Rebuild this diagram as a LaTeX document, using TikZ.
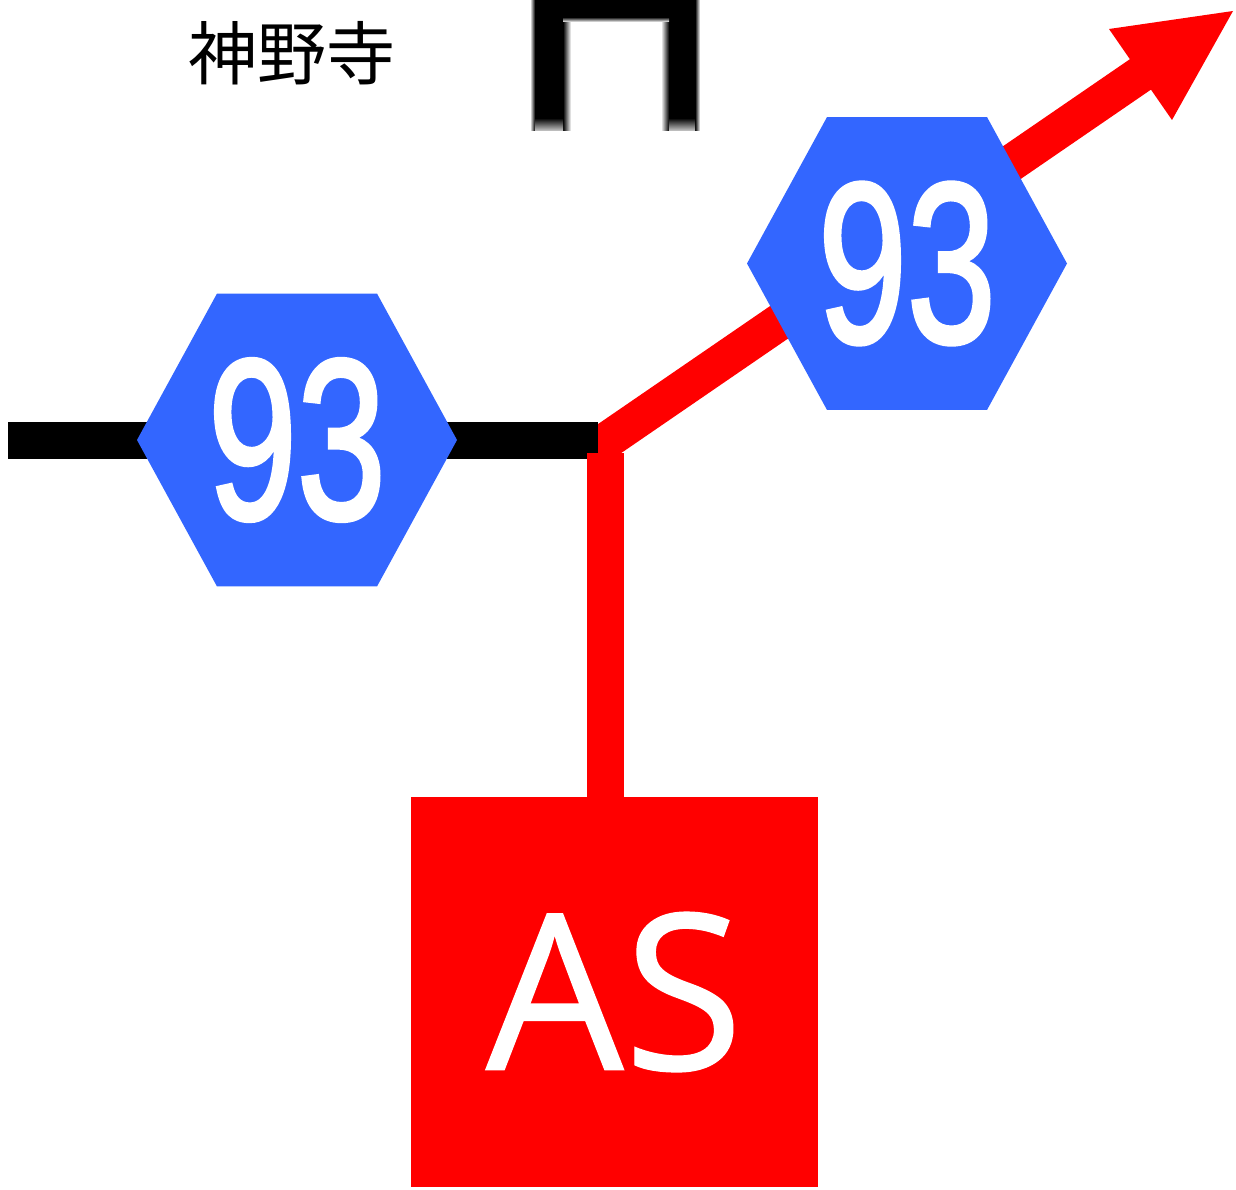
\documentclass[tikz,border=0pt]{standalone}
\usepackage{fontspec}
\setmainfont{Liberation Sans}
\newfontfamily\cjk{Noto Sans CJK JP}
\newfontfamily\asfont[FakeBold=.6]{Open Sans}
\newfontfamily\routefont[FakeBold=2]{Liberation Sans}
\usetikzlibrary{shapes.geometric}
\definecolor{roadblue}{RGB}{51,102,255}
\newdimen\pxu
\pxu=.02646cm
\tikzset{
  routehex/.style={regular polygon,regular polygon sides=6,fill=roadblue,inner sep=0pt,minimum size=320\pxu,yscale=1.057,transform shape},
  routeno/.style={text=white,font=\routefont\fontsize{172}{172}\selectfont,xscale=.7,transform shape},
  roadline/.style={line width=37\pxu},
}
\begin{document}
\begin{tikzpicture}[x=.02646cm,y=-.02646cm]
      \useasboundingbox (0,0) rectangle (1236,1189);
      % road lines
      \coordinate (west) at (8,440.5);
      \coordinate (junction) at (598,440.5);
      \coordinate (bend) at (590,452);
      \coordinate (shaftend) at (1141,74);
      \coordinate (tip) at (1233,11);
      \coordinate (barbsouth) at (1172,120);
      \coordinate (barbnorth) at (1109,29);
      \coordinate (foot) at (605,453);
      \draw[red,roadline] (bend) -- (shaftend);
      \fill[red] (tip) -- (barbsouth) -- (barbnorth) -- cycle;
      \draw[black,roadline] (west) -- (junction);
      \node[fill=red,minimum width=407\pxu,minimum height=390\pxu,inner sep=0pt] (asbox) at (614.5,992) {};
      \draw[red,roadline] (605,800) -- (foot);
      % stations
      \node[routehex] (hexwest) at (297,440) {};
      \node[routehex] (hexeast) at (907,263.5) {};
      \node[routeno] (nowest) at (297,440) {93};
      \node[routeno] (noeast) at (907,263.5) {93};
      \node[text=white,font=\asfont\fontsize{164}{164}\selectfont] (astext) at (asbox) {AS};
      \node[font=\cjk\fontsize{52}{52}\selectfont] (temple) at (292,53) {神野寺};
      % gate mark
      \fill[black] (535,0) rectangle (563,120);
      \fill[black] (669,0) rectangle (695,120);
      \fill[black] (535,0) rectangle (695,17);
      \shade[left color=white,right color=black] (530,0) rectangle (535,131);
      \shade[left color=black,right color=white] (563,17) rectangle (571,131);
      \shade[left color=white,right color=black] (661,17) rectangle (669,131);
      \shade[left color=black,right color=white] (695,0) rectangle (700,131);
      \shade[top color=black,bottom color=white] (563,17) rectangle (669,22);
      \shade[top color=black,bottom color=black!20] (535,118) rectangle (563,131);
      \shade[top color=black,bottom color=black!20] (669,118) rectangle (695,131);
    \end{tikzpicture}
\end{document}
